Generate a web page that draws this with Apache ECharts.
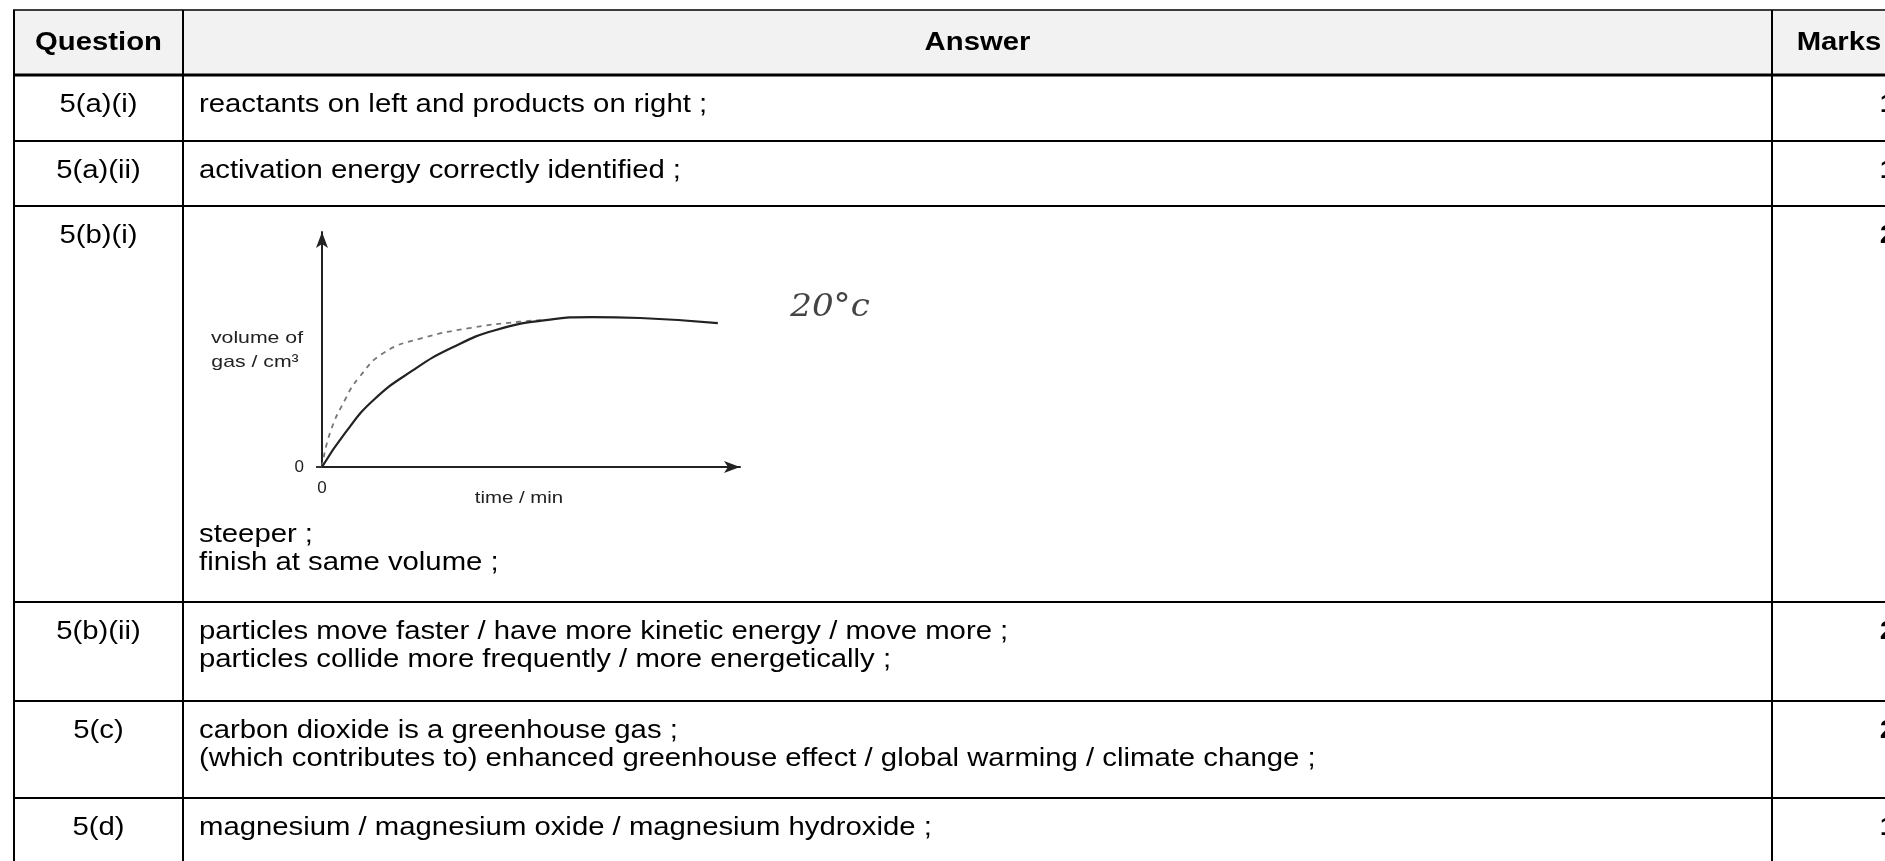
<!DOCTYPE html>
<html>
<head>
<meta charset="utf-8">
<script src="https://cdn.jsdelivr.net/npm/echarts@6/dist/echarts.min.js"></script>
<style>
html,body{margin:0;padding:0;background:#fff;}
#main{width:1885px;height:861px;}
</style>
</head>
<body>
<div id="main"></div>
<script>
// ---- data ----
const headers = ['Question', 'Answer', 'Marks'];
const questions = ['5(a)(i)', '5(a)(ii)', '5(b)(i)', '5(b)(ii)', '5(c)', '5(d)'];
const answers = [
  ['reactants on left and products on right ;'],
  ['activation energy correctly identified ;'],
  ['steeper ;', 'finish at same volume ;'],
  ['particles move faster / have more kinetic energy / move more ;',
   'particles collide more frequently / more energetically ;'],
  ['carbon dioxide is a greenhouse gas ;',
   '(which contributes to) enhanced greenhouse effect / global warming / climate change ;'],
  ['magnesium / magnesium oxide / magnesium hydroxide ;']
];
const marks = [1, 1, 2, 2, 2, 1];

// sketched graph in 5(b)(i): time (arbitrary units) vs volume of gas (arbitrary units)
const timeSolid   = [0, 0.55, 1.24, 2.18, 3.09, 4.14, 5.41, 6.46, 7.61, 9.47];
const volumeSolid = [0, 7.2, 14.3, 20.6, 25.3, 29.1, 31.3, 31.9, 31.7, 30.6];
const timeDashed   = [0, 0.19, 0.55, 0.89, 1.48, 2.39, 3.56, 4.71, 5.41];
const volumeDashed = [0, 7.2, 14.3, 19.1, 24.3, 27.4, 29.6, 30.9, 31.3];
const yAxisTitle = ['volume of', 'gas / cm³'];
const xAxisTitle = 'time / min';
const tempNote = '20°c';

// ---- layout ----
const rowLines = [10, 75, 141, 206, 602, 701, 798, 868];
const colLines = [14, 183, 1772, 1910];
const FONT = '"Liberation Sans", Arial, sans-serif';
const FS = 29.3, LH = 28, SY = 0.9;

const g = [];
// header background
g.push({type: 'rect', shape: {x: colLines[0], y: rowLines[0], width: colLines[3] - colLines[0], height: rowLines[1] - rowLines[0]},
  style: {fill: '#f2f2f2'}, z: 0});
// horizontal lines
rowLines.forEach((y, i) => {
  g.push({type: 'line', shape: {x1: colLines[0] - 1, y1: y, x2: colLines[3], y2: y},
    style: {stroke: '#000', lineWidth: i === 0 ? 1.5 : (i === 1 ? 3 : 2)}, z: 5});
});
// vertical lines
colLines.forEach(x => {
  g.push({type: 'line', shape: {x1: x, y1: rowLines[0], x2: x, y2: rowLines[rowLines.length - 1]},
    style: {stroke: '#000', lineWidth: 2}, z: 5});
});
function txt(text, x, y, opt) {
  opt = opt || {};
  return {type: 'text', x: x, y: y, scaleY: SY, z: 10,
    style: {text: text, fontSize: opt.fs || FS, fontFamily: FONT, fontWeight: opt.bold ? 'bold' : 'normal',
      fill: '#000', align: opt.align || 'left', verticalAlign: 'middle'}};
}
// headers
const hMid = 43;
g.push(txt(headers[0], (colLines[0] + colLines[1]) / 2, hMid, {bold: true, align: 'center'}));
g.push(txt(headers[1], (colLines[1] + colLines[2]) / 2, hMid, {bold: true, align: 'center'}));
g.push(txt(headers[2], 1839, hMid, {bold: true, align: 'center'}));
// rows
questions.forEach((q, i) => {
  const top = rowLines[i + 1];
  const first = top + 30;
  g.push(txt(q, (colLines[0] + colLines[1]) / 2, first, {align: 'center'}));
  g.push(txt(String(marks[i]), 1896, first, {bold: true, align: 'right'}));
  const lines = answers[i];
  const start = (i === 2) ? top + 329 : first;
  lines.forEach((l, k) => g.push(txt(l, 199, start + k * LH)));
});
// graph annotations (scanned sketch: glyphs look horizontally stretched)
function small(text, x, y, sx) {
  return {type: 'text', x: x, y: y, scaleX: sx, z: 10,
    style: {text: text, fontSize: 17, fontFamily: FONT, fontWeight: 500, fill: '#222', align: 'center', verticalAlign: 'middle'}};
}
g.push(small(yAxisTitle[0], 257, 338, 1.25));
g.push(small(yAxisTitle[1], 255, 362, 1.25));
g.push(small(xAxisTitle, 519, 498, 1.2));
g.push({type: 'text', x: 830, y: 308, z: 10, scaleX: 1.1,
  style: {text: tempNote, fontSize: 31, fontFamily: '"DejaVu Serif", serif', fontStyle: 'italic', fill: '#444', align: 'center', verticalAlign: 'middle'}});

const zip = (a, b) => a.map((v, i) => [v, b[i]]);

const chart = echarts.init(document.getElementById('main'), null, {renderer: 'canvas'});
chart.setOption({
  animation: false,
  backgroundColor: '#fff',
  grid: {left: 322, top: 232, right: 1145, bottom: 394, containLabel: false},
  xAxis: {
    type: 'value', min: 0, max: 10,
    axisLine: {show: true, symbol: ['none', 'arrow'], symbolSize: [9, 16], lineStyle: {color: '#222', width: 2}},
    axisTick: {show: false},
    splitLine: {show: false},
    axisLabel: {customValues: [0], formatter: v => v === 0 ? '0' : '', margin: 13, fontSize: 17, fontFamily: FONT, color: '#222'}
  },
  yAxis: {
    type: 'value', min: 0, max: 50,
    axisLine: {show: true, symbol: ['none', 'arrow'], symbolSize: [9, 16], lineStyle: {color: '#222', width: 2}},
    axisTick: {show: true, customValues: [0], length: 6, lineStyle: {color: '#333', width: 2}},
    splitLine: {show: false},
    axisLabel: {customValues: [0], formatter: v => v === 0 ? '0' : '', margin: 18, fontSize: 17, fontFamily: FONT, color: '#222'}
  },
  series: [
    {type: 'line', data: zip(timeSolid, volumeSolid), smooth: 0.5, showSymbol: false, silent: true,
      lineStyle: {color: '#222', width: 2.2}, z: 3},
    {type: 'line', data: zip(timeDashed, volumeDashed), smooth: 0.5, showSymbol: false, silent: true,
      lineStyle: {color: '#777', width: 1.8, type: [5, 5]}, z: 2}
  ],
  graphic: g
});
</script>
</body>
</html>
